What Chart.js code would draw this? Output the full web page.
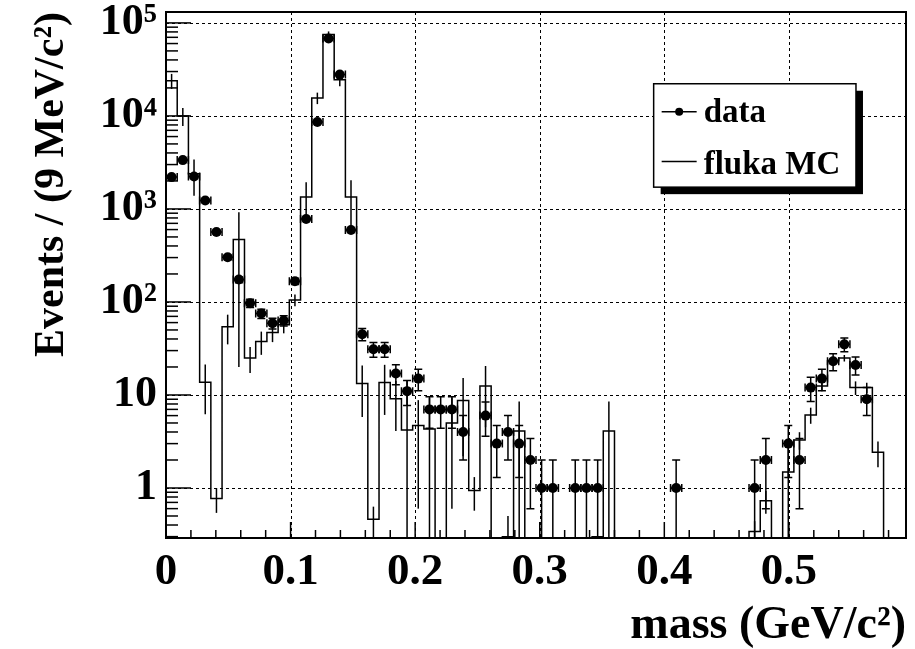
<!DOCTYPE html>
<html>
<head>
<meta charset="utf-8">
<script src="https://cdn.jsdelivr.net/npm/chart.js@4.4.0/dist/chart.umd.min.js"></script>
<style>
  body { margin: 0; background: #fff; }
  #wrap { width: 915px; height: 649px; }
</style>
</head>
<body>
<div id="wrap"><canvas id="chart"></canvas></div>
<script>
// 66 bins of 9 MeV/c2 from 0 to 0.594 GeV/c2
const binWidth = 0.009
const nBins = 66

// data counts per bin (0 = empty bin, no marker)
const dataCounts = [2200, 3350, 2230, 1230, 566, 302, 174, 97, 75, 59,
  63, 167, 780, 8600, 68000, 27800, 594, 45, 31, 31,
  17, 11, 15, 7, 7, 7, 4, 0, 6, 3,
  4, 3, 2, 1, 1, 0, 1, 1, 1, 0,
  0, 0, 0, 0, 0, 1, 0, 0, 0, 0,
  0, 0, 1, 2, 0, 3, 2, 12, 15, 23,
  35, 21, 9, 0, 0, 0]
const dataErrors = [47, 58, 47, 35, 24, 17, 13, 10, 8.7, 7.7,
  7.9, 13, 28, 93, 260, 167, 24, 6.7, 5.6, 5.6,
  4.1, 3.3, 3.9, 2.6, 2.6, 2.6, 2, 0, 2.4, 1.7,
  2, 1.7, 1.4, 1, 1, 0, 1, 1, 1, 0,
  0, 0, 0, 0, 0, 1, 0, 0, 0, 0,
  0, 0, 1, 1.4, 0, 1.7, 1.4, 3.5, 3.9, 4.8,
  5.9, 4.6, 3, 0, 0, 0]

// fluka MC histogram
const mcValues = [23900, 10000, 2390, 13.7, 0.77, 54, 470, 25, 37.5, 47,
  57, 105, 1340, 15600, 75000, 24500, 1340, 13.3, 0.46, 13.6,
  9.1, 4.2, 4.7, 4.3, 0, 5, 8.7, 0.94, 12.5, 0,
  0.3, 4.1, 0, 0, 0, 0, 0, 0, 0.3, 4.1,
  0, 0, 0, 0, 0, 0, 0, 0, 0, 0,
  0, 0, 0.34, 0.73, 0, 1.49, 3.28, 6.1, 12.5, 23.3,
  24.9, 12.0, 12.0, 2.42, 0, 0]
const mcErrors = [4400, 2200, 1000, 7.5, 0.23, 19, 450, 7.8, 10.5, 10,
  11, 15, 600, 2200, 6000, 3600, 700, 7.5, 0.17, 7.5,
  5, 10, 4.1, 5, 0, 4.4, 6.5, 0.37, 8, 0,
  0.2, 4.4, 0, 0, 0, 0, 0, 0, 0, 4.4,
  0, 0, 0, 0, 0, 0, 0, 0, 0, 0,
  0, 0, 0.1, 0.2, 0, 1.3, 0.7, 1.2, 1.5, 2,
  2, 2, 1.5, 0.75, 0, 0]

const xTicks = [0, 0.1, 0.2, 0.3, 0.4, 0.5]
const xTickLabels = ['0', '0.1', '0.2', '0.3', '0.4', '0.5']
const yTicks = [1, 10, 100, 1000, 10000, 100000]
const yTickLabels = ['1', '10', '10²', '10³', '10⁴', '10⁵']

const xMax = binWidth * nBins
const yMin = 0.29
const yMax = 1.31e5
const serif = '"Liberation Serif", "Times New Roman", serif'

// points for the chart
let dataPoints = []
dataCounts.forEach((v, i) => {
  if (v > 0) dataPoints.push({x: binWidth * (i + 0.5), y: v, err: dataErrors[i]})
})
// histogram drawn from bin low edges, empty bins dropped below the frame
let mcPoints = mcValues.map((v, i) => ({x: binWidth * i, y: v > 0 ? v : yMin / 10}))
mcPoints.push({x: xMax, y: mcPoints[nBins - 1].y})

// dotted grid under the marks
const gridPlugin = {
  id: 'rootGrid',
  beforeDatasetsDraw(chart) {
    const {ctx, chartArea: a, scales: {x, y}} = chart
    ctx.save()
    ctx.strokeStyle = '#000'
    ctx.lineWidth = 1
    ctx.setLineDash([3, 3])
    xTicks.forEach(v => {
      if (v === 0) return
      const px = Math.round(x.getPixelForValue(v)) + 0.5
      ctx.beginPath(); ctx.moveTo(px, a.top); ctx.lineTo(px, a.bottom); ctx.stroke()
    })
    yTicks.forEach(v => {
      const py = Math.round(y.getPixelForValue(v)) + 0.5
      ctx.beginPath(); ctx.moveTo(a.left, py); ctx.lineTo(a.right, py); ctx.stroke()
    })
    ctx.restore()
  }
}

// error bars, frame, inner ticks, legend
const overlayPlugin = {
  id: 'rootOverlay',
  afterDatasetsDraw(chart) {
    const {ctx, chartArea: a, scales: {x, y}} = chart
    ctx.save()
    ctx.beginPath()
    ctx.rect(a.left, a.top, a.right - a.left, a.bottom - a.top)
    ctx.clip()
    ctx.strokeStyle = '#000'
    // MC error bars
    ctx.lineWidth = 1.5
    mcValues.forEach((v, i) => {
      const e = mcErrors[i]
      if (!(v > 0) || !(e > 0)) return
      const px = x.getPixelForValue(binWidth * (i + 0.5))
      const lo = v - e > 0 ? y.getPixelForValue(v - e) : a.bottom
      const hi = y.getPixelForValue(v + e)
      ctx.beginPath(); ctx.moveTo(px, lo); ctx.lineTo(px, hi); ctx.stroke()
    })
    // data error bars with end caps
    ctx.lineWidth = 1.5
    const cap = 4
    dataPoints.forEach(p => {
      const px = x.getPixelForValue(p.x)
      const py = y.getPixelForValue(p.y)
      const x0 = x.getPixelForValue(p.x - binWidth / 2)
      const x1 = x.getPixelForValue(p.x + binWidth / 2)
      const lo = p.y - p.err > 0 ? y.getPixelForValue(p.y - p.err) : a.bottom
      const hi = y.getPixelForValue(p.y + p.err)
      ctx.beginPath()
      ctx.moveTo(x0, py); ctx.lineTo(x1, py)
      ctx.moveTo(x0, py - cap); ctx.lineTo(x0, py + cap)
      ctx.moveTo(x1, py - cap); ctx.lineTo(x1, py + cap)
      ctx.moveTo(px, lo); ctx.lineTo(px, hi)
      ctx.moveTo(px - cap, hi); ctx.lineTo(px + cap, hi)
      if (lo < a.bottom) { ctx.moveTo(px - cap, lo); ctx.lineTo(px + cap, lo) }
      ctx.stroke()
    })
    ctx.restore()

    ctx.save()
    ctx.strokeStyle = '#000'
    // inner ticks, left axis
    ctx.lineWidth = 1.5
    for (let d = -1; d <= 5; d++) {
      for (let m = 1; m <= 9; m++) {
        const v = m * Math.pow(10, d)
        if (v < yMin || v > yMax) continue
        const py = y.getPixelForValue(v)
        const len = m === 1 ? 25 : 12
        ctx.beginPath(); ctx.moveTo(a.left, py); ctx.lineTo(a.left + len, py); ctx.stroke()
      }
    }
    // inner ticks, bottom axis
    for (let k = 1; k * 0.02 < xMax; k++) {
      const px = x.getPixelForValue(k * 0.02)
      const len = k % 5 === 0 ? 16 : 8
      ctx.beginPath(); ctx.moveTo(px, a.bottom); ctx.lineTo(px, a.bottom - len); ctx.stroke()
    }
    // frame
    ctx.lineWidth = 2
    ctx.strokeRect(a.left, a.top, a.right - a.left, a.bottom - a.top)

    // legend box with shadow
    const w = a.right - a.left, h = a.bottom - a.top
    const bx = a.left + 0.659 * w, by = a.top + 0.1364 * h
    const bw = 0.2734 * w, bh = 0.1966 * h
    const sh = 7
    ctx.fillStyle = '#000'
    ctx.fillRect(bx + sh, by + sh, bw, bh)
    ctx.fillStyle = '#fff'
    ctx.fillRect(bx, by, bw, bh)
    ctx.lineWidth = 1.5
    ctx.strokeRect(bx, by, bw, bh)
    const ds = chart.data.datasets
    ctx.font = 'bold 33px ' + serif
    ctx.textBaseline = 'middle'
    ctx.fillStyle = '#000'
    const rows = [by + 0.27 * bh, by + 0.78 * bh]
    // data entry
    ctx.beginPath(); ctx.moveTo(bx + 8, rows[0]); ctx.lineTo(bx + 43, rows[0]); ctx.stroke()
    ctx.beginPath(); ctx.arc(bx + 25.5, rows[0], 4, 0, Math.PI * 2); ctx.fill()
    ctx.fillText(ds[1].label, bx + 50, rows[0] + 2)
    // MC entry
    ctx.beginPath(); ctx.moveTo(bx + 8, rows[1] - 3); ctx.lineTo(bx + 43, rows[1] - 3); ctx.stroke()
    ctx.fillText(ds[0].label, bx + 50, rows[1] + 1)
    ctx.restore()
  }
}

new Chart(document.getElementById('chart'), {
  type: 'line',
  data: {
    datasets: [
      {
        label: 'fluka MC',
        data: mcPoints,
        stepped: true,
        borderColor: '#000',
        borderWidth: 1.5,
        pointRadius: 0,
        fill: false,
        clip: 0
      },
      {
        label: 'data',
        data: dataPoints,
        showLine: false,
        pointRadius: 5,
        pointBackgroundColor: '#000',
        pointBorderColor: '#000',
        pointBorderWidth: 0
      }
    ]
  },
  options: {
    responsive: true,
    maintainAspectRatio: false,
    animation: false,
    events: [],
    layout: {padding: {top: 12, right: 9, left: 0, bottom: 0}},
    plugins: {legend: {display: false}, tooltip: {enabled: false}},
    scales: {
      x: {
        type: 'linear',
        min: 0,
        max: xMax,
        grid: {display: false, drawTicks: false},
        border: {display: false},
        afterBuildTicks: s => { s.ticks = xTicks.map(v => ({value: v})) },
        afterFit: s => { s.height = 111; s.paddingLeft = 0; s.paddingRight = 0 },
        ticks: {
          autoSkip: false,
          maxRotation: 0,
          padding: 7,
          color: '#000',
          font: {family: serif, size: 45, weight: 'bold'},
          callback: v => xTickLabels[xTicks.indexOf(v)]
        },
        title: {
          display: true,
          text: 'mass (GeV/c²)',
          align: 'end',
          color: '#000',
          font: {family: serif, size: 46, weight: 'bold', lineHeight: 1},
          padding: {top: 0, bottom: 0}
        }
      },
      y: {
        type: 'logarithmic',
        min: yMin,
        max: yMax,
        grid: {display: false, drawTicks: false},
        border: {display: false},
        afterBuildTicks: s => { s.ticks = yTicks.map(v => ({value: v})) },
        afterFit: s => { s.width = 166; s.paddingTop = 0; s.paddingBottom = 0 },
        ticks: {
          autoSkip: false,
          padding: 9,
          color: '#000',
          font: {family: serif, size: 44, weight: 'bold'},
          callback: v => yTickLabels[yTicks.indexOf(v)]
        },
        title: {
          display: true,
          text: 'Events / (9 MeV/c²)',
          align: 'end',
          color: '#000',
          font: {family: serif, size: 42, weight: 'bold', lineHeight: 1},
          padding: {top: 31, bottom: 0}
        }
      }
    }
  },
  plugins: [gridPlugin, overlayPlugin]
})
</script>
</body>
</html>
